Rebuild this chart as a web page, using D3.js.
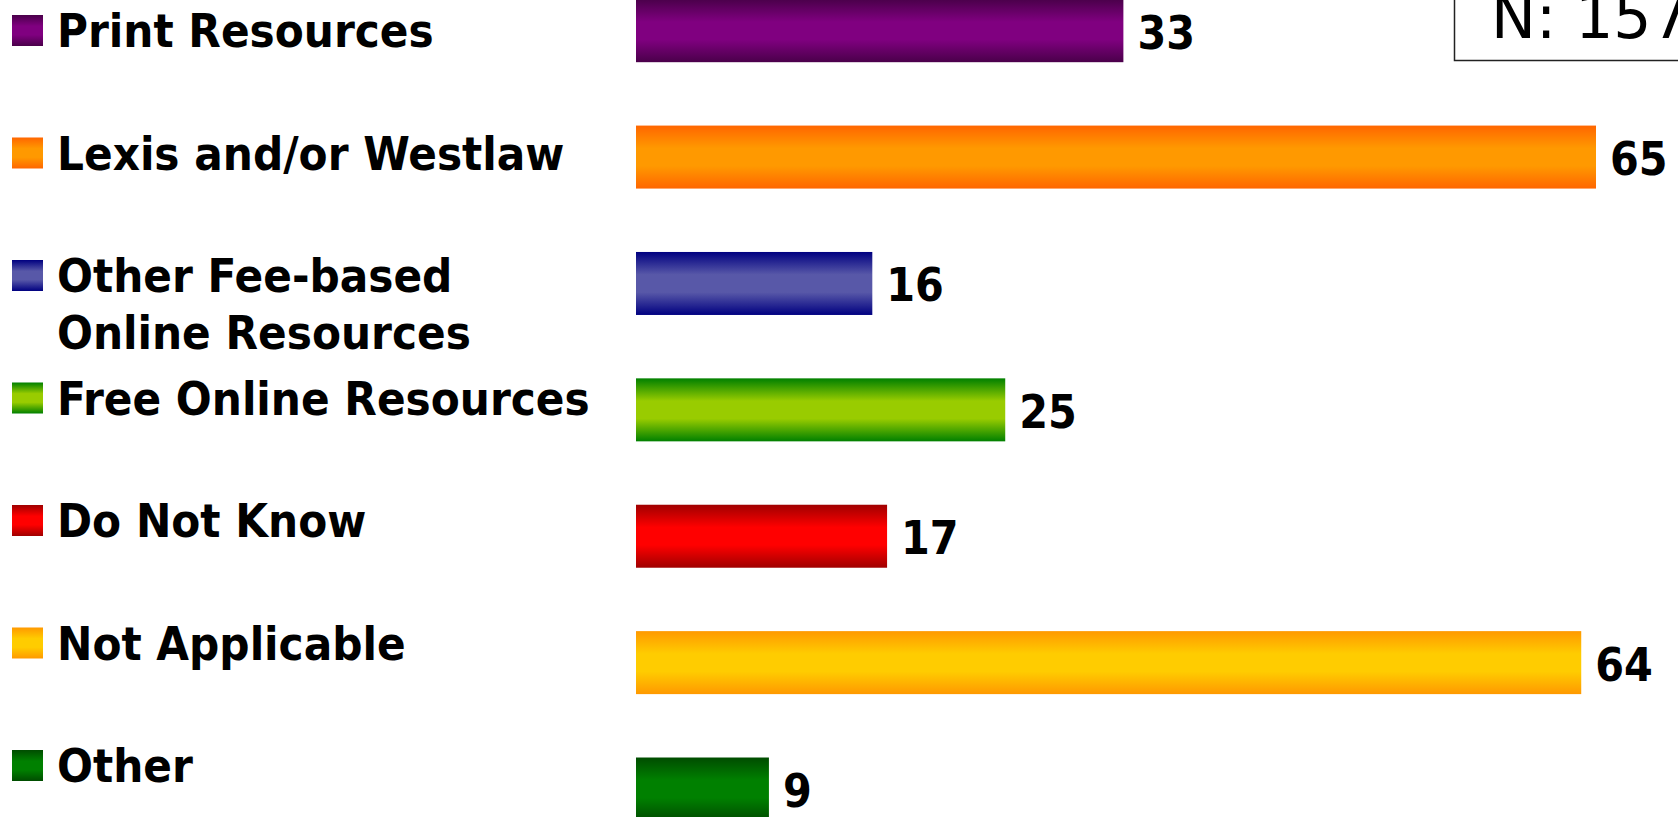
<!DOCTYPE html>
<html>
<head>
<meta charset="utf-8">
<script src="https://cdn.jsdelivr.net/npm/d3@7"></script>
<style>
  html, body { margin: 0; padding: 0; background: #ffffff; overflow: hidden; }
  svg { display: block; }
  .lbl { font-family: "DejaVu Sans Condensed", "DejaVu Sans", sans-serif; font-weight: bold; font-stretch: condensed; fill: #000; }
</style>
</head>
<body>
<svg id="chart" width="1678" height="817"></svg>
<script>
// ---- data ----
const categories = ["Print Resources", "Lexis and/or Westlaw", "Other Fee-based Online Resources",
                    "Free Online Resources", "Do Not Know", "Not Applicable", "Other"];
const legendLines = [["Print Resources"], ["Lexis and/or Westlaw"], ["Other Fee-based", "Online Resources"],
                     ["Free Online Resources"], ["Do Not Know"], ["Not Applicable"], ["Other"]];
const values = [33, 65, 16, 25, 17, 64, 9];
const centerColors = ["#800080", "#ff9900", "#5858a8", "#99cc00", "#ff0000", "#ffcc00", "#008000"];
const edgeColors   = ["#4a004a", "#ff6600", "#000080", "#008000", "#a00000", "#ff9900", "#004c00"];
const nLabel = "N: 157";

const svg = d3.select("#chart");

// gradients
const defs = svg.append("defs");
categories.forEach((c, i) => {
  const g = defs.append("linearGradient").attr("id", "grad" + i)
    .attr("x1", 0).attr("y1", 0).attr("x2", 0).attr("y2", 1);
  [[0, edgeColors[i]], [0.36, centerColors[i]], [0.64, centerColors[i]], [1, edgeColors[i]]]
    .forEach(([o, col]) => g.append("stop").attr("offset", o).attr("stop-color", col));
});

// scales
const x = d3.scaleLinear().domain([0, 65]).range([636, 1596]);
const y = d3.scaleBand().domain(categories).range([-0.8, 820.5]).paddingInner(0.5016).paddingOuter(0);
const yLeg = d3.scaleBand().domain(categories).range([15, 15 + 7 * 122.5]).padding(0);

// bars
svg.append("g").selectAll("rect").data(categories).join("rect")
  .attr("x", x(0))
  .attr("y", d => y(d))
  .attr("width", (d, i) => x(values[i]) - x(0))
  .attr("height", y.bandwidth())
  .attr("fill", (d, i) => `url(#grad${i})`);

// value labels
svg.append("g").selectAll("text").data(categories).join("text")
  .attr("class", "lbl")
  .attr("x", (d, i) => x(values[i]) + 14)
  .attr("y", d => y(d) + y.bandwidth() / 2 + 18)
  .attr("font-size", 46)
  .text((d, i) => values[i]);

// legend
const leg = svg.append("g").selectAll("g").data(categories).join("g")
  .attr("transform", d => `translate(0,${yLeg(d)})`);
leg.append("rect").attr("x", 12).attr("y", 0).attr("width", 31).attr("height", 31)
  .attr("fill", (d, i) => `url(#grad${i})`);
leg.append("text").attr("class", "lbl").attr("font-size", 47)
  .selectAll("tspan").data((d, i) => legendLines[i]).join("tspan")
  .attr("x", 57).attr("y", (t, j) => 32 + j * 57)
  .text(t => t);

// N box
svg.append("rect").attr("x", 1454.5).attr("y", -40).attr("width", 300).attr("height", 100.5)
  .attr("fill", "none").attr("stroke", "#222").attr("stroke-width", 1.5);
svg.append("text").attr("x", 1491).attr("y", 38)
  .attr("font-family", "'DejaVu Sans', sans-serif").attr("font-size", 60)
  .attr("fill", "#000")
  .text(nLabel);
</script>
</body>
</html>
